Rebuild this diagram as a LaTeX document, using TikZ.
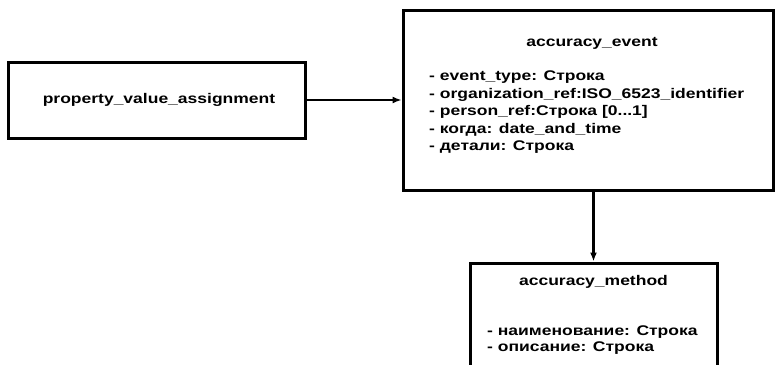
\documentclass[tikz,border=0pt]{standalone}
\usepackage{fontspec}
\setmainfont{Liberation Sans}
\newfontfamily\diagfont[FakeStretch=1.25]{Liberation Sans}
\usetikzlibrary{arrows.meta}

\tikzset{
  entbox/.style={draw, line width=3pt, rectangle, inner sep=0pt},
  attr/.style={anchor=west, align=left, inner sep=0pt, font=\diagfont\bfseries\fontsize{14}{17.5}\selectfont},
  ttl/.style={inner sep=0pt, font=\diagfont\bfseries\fontsize{14}{17}\selectfont},
  link/.style={-{Latex[length=9pt,width=7pt]}}
}

\begin{document}
\begin{tikzpicture}[x=1pt,y=-1pt]
		\useasboundingbox (0,0) rectangle (776,364);
		\clip (0,0) rectangle (776,364);
		
		% Boxes
		\node[entbox, minimum width=297pt, minimum height=76pt] (pva) at (157,100) {};
		\node[entbox, minimum width=370pt, minimum height=180pt] (event) at (588,100) {};
		\node[entbox, minimum width=247pt, minimum height=110pt] (method) at (593.5,318) {};
		
		% Texts
		\node[ttl] (pva_t) at (159,100) {property\_value\_assignment};
		\node[ttl] (event_t) at (592,43) {accuracy\_event};
		\node[attr, anchor=north west] (event_a) at (429,71) {- event\_type: Строка\\
			- organization\_ref:ISO\_6523\_identifier\\
			- person\_ref:Строка [0...1]\\
			- когда: date\_and\_time\\
			- детали: Строка};
		\node[ttl] (method_t) at (593.5,282) {accuracy\_method};
		\node[attr, anchor=north west, font=\diagfont\bfseries\fontsize{14}{16}\selectfont] (method_a) at (487,326) {- наименование: Строка\\
			- описание: Строка};
		
		% Connectors
		\draw[link, line width=1.5pt] (pva.east) -- (event.west);
		\draw[link, line width=3pt] (event.south -| method.north) -- (method.north);
	\end{tikzpicture}
\end{document}
